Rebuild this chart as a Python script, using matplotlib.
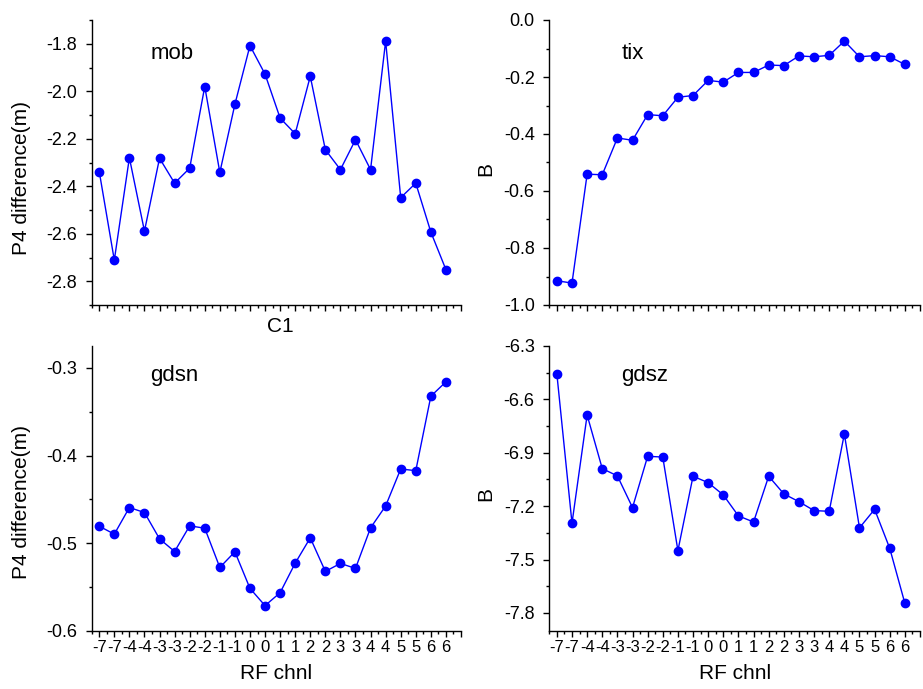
import matplotlib
matplotlib.use("Agg")
import matplotlib.pyplot as plt
import numpy as np
from matplotlib.ticker import MultipleLocator, FixedLocator, FormatStrFormatter

plt.rcParams['font.family'] = ['Liberation Sans', 'DejaVu Sans']
plt.rcParams['axes.unicode_minus'] = False

x_labels = ['-7', '-7', '-4', '-4', '-3', '-3', '-2', '-2', '-1', '-1', '0', '0',
            '1', '1', '2', '2', '3', '3', '4', '4', '5', '5', '6', '6']

mob = [-2.338, -2.711, -2.280, -2.589, -2.282, -2.387, -2.324, -1.980, -2.342, -2.055,
       -1.808, -1.928, -2.113, -2.179, -1.937, -2.246, -2.330, -2.204, -2.330, -1.789,
       -2.448, -2.387, -2.593, -2.751]

tix = [-0.915, -0.923, -0.541, -0.543, -0.414, -0.422, -0.332, -0.336, -0.271, -0.265,
       -0.212, -0.218, -0.184, -0.184, -0.158, -0.160, -0.126, -0.129, -0.124, -0.074,
       -0.129, -0.125, -0.129, -0.156]

gdsn = [-0.4807, -0.4898, -0.4594, -0.4651, -0.4951, -0.5096, -0.4803, -0.4830, -0.5278,
        -0.5099, -0.5517, -0.5714, -0.5566, -0.5229, -0.4940, -0.5323, -0.5232, -0.5289,
        -0.4826, -0.4576, -0.4154, -0.4173, -0.3323, -0.3159]

gdsz = [-6.457, -7.296, -6.688, -6.989, -7.030, -7.208, -6.920, -6.924, -7.450, -7.032,
        -7.068, -7.137, -7.255, -7.289, -7.032, -7.131, -7.175, -7.225, -7.229, -6.794,
        -7.322, -7.218, -7.437, -7.746]

W, H = 923, 689
fig = plt.figure(figsize=(W / 100, H / 100), dpi=100)

def px_axes(x0, y0, x1, y1):
    return fig.add_axes([x0 / W, 1 - y1 / H, (x1 - x0) / W, (y1 - y0) / H])

ax_tl = px_axes(91.7, 20, 461, 305)
ax_tr = px_axes(549.3, 20, 920, 305)
ax_bl = px_axes(91.7, 346, 461, 630.7)
ax_br = px_axes(549.3, 346, 920, 630.7)

xs = np.arange(1, len(x_labels) + 1)

panels = [
    (ax_tl, mob, 'mob', (-2.9, -1.7), 0.2, 0.1, 'P4 difference(m)', (0.219, 0.884), (-0.189, 0.447), False, 'C1'),
    (ax_tr, tix, 'tix', (-1.0, 0.0), 0.2, 0.1, 'B', (0.226, 0.881), (-0.171, 0.477), False, None),
    (ax_bl, gdsn, 'gdsn', (-0.6, -0.275), 0.1, 0.05, 'P4 difference(m)', (0.223, 0.898), (-0.189, 0.453), True, 'RF chnl'),
    (ax_br, gdsz, 'gdsz', (-7.9, -6.3), 0.3, 0.15, 'B', (0.258, 0.898), (-0.171, 0.480), True, 'RF chnl'),
]

for ax, ys, name, ylim, major, minor, ylabel, tpos, ylpos, show_xt, xlabel in panels:
    ax.plot(xs, ys, color='#0000FF', lw=1.0, marker='o', ms=6, mec='#0000FF', mfc='#0000FF')
    ax.set_xlim(0.5, 25)
    ax.set_ylim(*ylim)
    for s in ['top', 'right']:
        ax.spines[s].set_visible(False)
    for s in ['left', 'bottom']:
        ax.spines[s].set_linewidth(1.0)
    # x ticks
    ax.xaxis.set_major_locator(FixedLocator(list(xs) + [25]))
    ax.xaxis.set_minor_locator(FixedLocator(list(xs - 0.5) + [24.5]))
    if show_xt:
        ax.set_xticklabels(x_labels + [''])
    else:
        ax.set_xticklabels([''] * (len(xs) + 1))
    ax.tick_params(axis='x', which='major', direction='out', length=4.5, width=1.0,
                   labelsize=12, pad=2)
    ax.tick_params(axis='x', which='minor', direction='out', length=2.5, width=1.0)
    # y ticks
    if name == 'gdsz':
        ax.yaxis.set_major_locator(FixedLocator([-6.3, -6.6, -6.9, -7.2, -7.5, -7.8]))
        ax.yaxis.set_minor_locator(FixedLocator([-6.45, -6.75, -7.05, -7.35, -7.65]))
    else:
        ax.yaxis.set_major_locator(MultipleLocator(major))
        ax.yaxis.set_minor_locator(MultipleLocator(minor))
    ax.yaxis.set_major_formatter(FormatStrFormatter('%.1f'))
    ax.tick_params(axis='y', which='major', direction='out', length=4.5, width=1.0,
                   labelsize=13, pad=6)
    ax.tick_params(axis='y', which='minor', direction='out', length=2.5, width=1.0)
    ax.set_ylabel(ylabel, fontsize=15, va='center')
    ax.yaxis.set_label_coords(*ylpos)
    if xlabel:
        ax.set_xlabel(xlabel, fontsize=15, va='center')
        if xlabel == 'C1':
            ax.xaxis.set_label_coords(0.51, -0.077)
        else:
            ax.xaxis.set_label_coords(0.5, -0.152)
    ax.text(tpos[0], tpos[1], name, transform=ax.transAxes, fontsize=16,
            ha='center', va='center')

fig.savefig('out.png', dpi=100)
